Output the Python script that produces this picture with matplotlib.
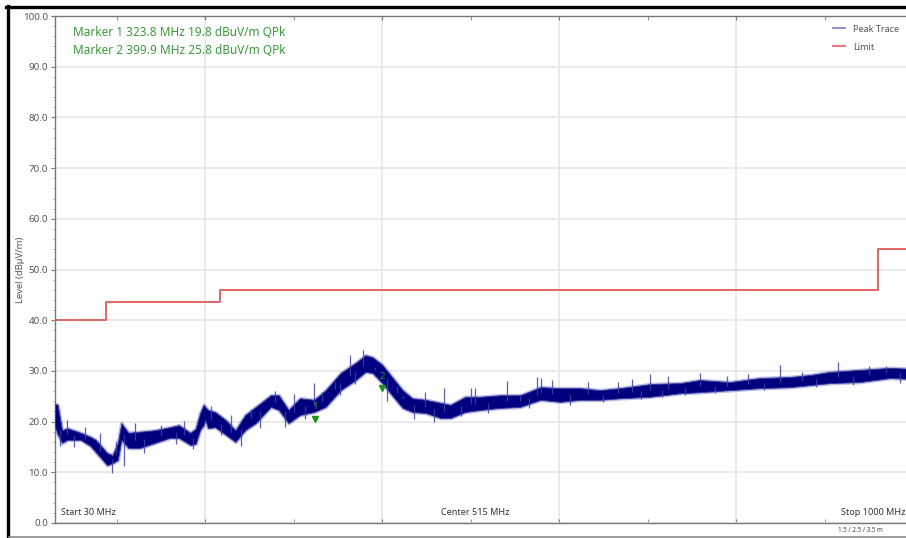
import numpy as np
import matplotlib
matplotlib.use("Agg")
import matplotlib.pyplot as plt
from matplotlib.lines import Line2D

plt.rcParams['font.family'] = ['Noto Sans', 'DejaVu Sans']

# peak trace, read as a band (low / high edge) in dBuV/m
trace_freq = [30, 33, 38, 44, 59, 70, 76, 81, 89, 95, 101, 105, 113, 126, 143, 160, 170,
              183, 189, 194, 198, 200, 203, 211, 223, 234, 245, 257, 274, 283, 294, 307,
              323, 336, 353, 370, 381, 389, 400, 411, 423, 434, 449, 466, 477, 494, 511,
              533, 556, 579, 601, 624, 646, 669, 703, 737, 759, 793, 827, 861, 884, 906,
              940, 974, 1000]
trace_high = [23.5, 23.3, 18.3, 18.7, 17.8, 17.0, 16.4, 15.4, 13.8, 13.4, 15.8, 19.7, 17.8,
              18.0, 18.3, 18.9, 19.3, 17.8, 18.6, 21.7, 23.3, 22.9, 22.3, 21.9, 20.3, 18.3,
              21.3, 22.9, 25.2, 25.2, 22.3, 24.6, 24.3, 26.2, 29.6, 31.6, 33.1, 32.7, 31.2,
              28.8, 26.2, 24.6, 24.3, 23.7, 23.3, 24.9, 24.9, 25.2, 25.2, 26.8, 26.6, 26.6,
              26.2, 26.6, 27.4, 27.6, 28.2, 27.8, 28.6, 28.8, 29.2, 29.8, 30.2, 30.6, 30.4]
trace_low = [19.0, 17.5, 15.8, 16.4, 16.4, 15.2, 14.0, 13.0, 11.4, 11.8, 12.4, 16.4, 14.8,
             14.8, 15.8, 16.8, 16.8, 15.4, 15.6, 18.3, 19.3, 20.3, 18.7, 18.9, 17.4, 16.0,
             18.3, 19.7, 22.9, 22.3, 19.7, 21.3, 21.9, 22.9, 26.2, 28.2, 29.8, 29.6, 27.6,
             25.2, 22.7, 21.9, 21.7, 20.7, 20.7, 21.9, 22.3, 22.7, 22.9, 24.3, 23.9, 24.3,
             24.3, 24.6, 24.9, 25.6, 25.8, 26.2, 26.6, 26.8, 27.2, 27.6, 27.8, 28.6, 28.4]

# single spikes sticking out of the band (up and down)
spike_freq = [36, 44, 52, 64, 81, 95, 99, 108, 120, 131, 150, 167, 176, 186, 206, 218,
              229, 240, 252, 262, 279, 290, 300, 313, 323, 332, 346, 352, 363, 369, 378,
              392, 405, 417, 423, 436, 448, 458, 470, 489, 500, 505, 520, 541, 556, 566,
              575, 579, 592, 612, 633, 650, 666, 682, 693, 703, 716, 723, 742, 759, 776,
              790, 813, 832, 850, 874, 890, 915, 932, 950, 970, 985]
spike_level = [15.2, 20.3, 15.0, 18.9, 17.8, 9.9, 16.2, 11.2, 19.8, 13.9, 19.3, 15.6,
               20.2, 14.6, 23.0, 17.4, 21.3, 15.2, 22.4, 18.7, 26.0, 19.0, 25.4, 20.6,
               27.6, 25.8, 27.9, 25.2, 33.1, 27.5, 34.1, 30.2, 24.0, 27.0, 25.0, 20.5,
               25.8, 20.0, 26.6, 21.2, 26.6, 26.6, 21.6, 28.0, 25.4, 22.6, 28.8, 28.6,
               28.2, 23.2, 27.8, 23.8, 27.9, 28.4, 24.4, 29.4, 24.8, 28.9, 25.2, 29.6,
               25.6, 29.0, 29.4, 26.2, 31.2, 29.8, 26.8, 31.7, 27.2, 31.0, 30.9, 27.6]

# limit line (steps)
limit_freq = [30, 88, 88, 216, 216, 960, 960, 1000]
limit_level = [40, 40, 43.5, 43.5, 46, 46, 54, 54]

# markers
marker_freq = [323.8, 399.9]
marker_level = [19.8, 25.8]
marker_names = ["1", "2"]
marker_texts = ["Marker 1 323.8 MHz 19.8 dBuV/m QPk",
                "Marker 2 399.9 MHz 25.8 dBuV/m QPk"]

W, H = 906, 538
fig = plt.figure(figsize=(W / 100, H / 100), dpi=100)
ax = fig.add_axes([55 / W, 1 - 523 / H, 858 / W, (523 - 16) / H])

grey = '#555555'
navy = '#00007f'

ax.set_xlim(30, 1000)
ax.set_ylim(0, 100)
ax.set_xticks([200, 400, 600, 800])
ax.set_xticks(np.arange(100, 1000, 100), minor=True)
ax.set_yticks(np.arange(0, 101, 10))
ax.set_yticks(np.arange(0, 101, 2), minor=True)
ax.set_yticklabels(["%.1f" % v for v in np.arange(0, 101, 10)])
ax.set_xticklabels([])
ax.grid(True, which='major', color='#e8e8e8', lw=1.3)
ax.set_axisbelow(True)
ax.tick_params(axis='y', which='major', direction='out', length=3, color='#777777',
               labelsize=7, labelcolor=grey, pad=2)
ax.tick_params(axis='y', which='minor', direction='out', length=1.5, color='#999999')
ax.tick_params(axis='x', which='both', direction='in', length=3, color='#777777',
               top=True)
for side in ['left', 'bottom', 'top', 'right']:
    ax.spines[side].set_color('#777777')
    ax.spines[side].set_linewidth(1)

ax.set_ylabel("Level (dBµV/m)", fontsize=6.8, color=grey)
ax.yaxis.set_label_coords(-30 / 858, 0.5)

# peak trace band, with a soft halo like the noisy original
ax.fill_between(trace_freq, trace_low, trace_high, color='#6a6ab8', lw=2.6,
                edgecolor='#6a6ab8', alpha=0.45, zorder=2.5)
ax.fill_between(trace_freq, trace_low, trace_high, color=navy, lw=0.6,
                edgecolor='#3a3aa0', zorder=3)
base = np.interp(spike_freq, trace_freq,
                 (np.array(trace_low) + np.array(trace_high)) / 2)
ax.vlines(spike_freq, base, spike_level, color='#4040a8', lw=0.9, alpha=0.85, zorder=3)

# limit
ax.plot(limit_freq, limit_level, color='#e46464', lw=1.4, zorder=4)

# markers
for f, v, n in zip(marker_freq, marker_level, marker_names):
    ax.plot(f, v + 0.8, marker='v', color='#1f8f1f', ms=5, zorder=5)
    ax.text(f, v + 2.2, n, color='#1f9f1f', fontsize=7, ha='center', va='bottom', zorder=5)

for i, t in enumerate(marker_texts):
    fig.text(73 / W, 1 - (33 + 17 * i) / H, t, color='#3a9a3a', fontsize=8.5,
             ha='left', va='center')

# span labels
ax.text(37, 2, "Start 30 MHz", fontsize=6.5, color='#333333', ha='left', va='center')
ax.text(505, 2, "Center 515 MHz", fontsize=6.5, color='#333333', ha='center', va='center')
ax.text(991, 2, "Stop 1000 MHz", fontsize=6.5, color='#333333', ha='right', va='center')

# legend
handles = [Line2D([], [], color='#7a7ac0', lw=1.2),
           Line2D([], [], color='#e87878', lw=1.5)]
fig.legend(handles, ["Peak Trace", "Limit"], loc='upper left',
           bbox_to_anchor=(828 / W, 1 - 20 / H), frameon=False, fontsize=6.5,
           labelcolor=grey, handlelength=1.4, handletextpad=0.9, labelspacing=1.0,
           borderpad=0)

# screenshot frame
fig.add_artist(Line2D([7.5 / W, 7.5 / W], [0, 1 - 6 / H], color='black', lw=2.4))
fig.add_artist(Line2D([6 / W, 1], [1 - 7 / H, 1 - 7 / H], color='black', lw=2.4))
fig.add_artist(Line2D([9 / W, 1], [1 - 536.5 / H, 1 - 536.5 / H], color='#8a8a8a', lw=1.2))
fig.text(838 / W, 1 - 531 / H, "1.5 / 2.5 / 3.5 m", fontsize=4.5, color='#444444',
         ha='left', va='center')

fig.savefig("out.png", dpi=100)
